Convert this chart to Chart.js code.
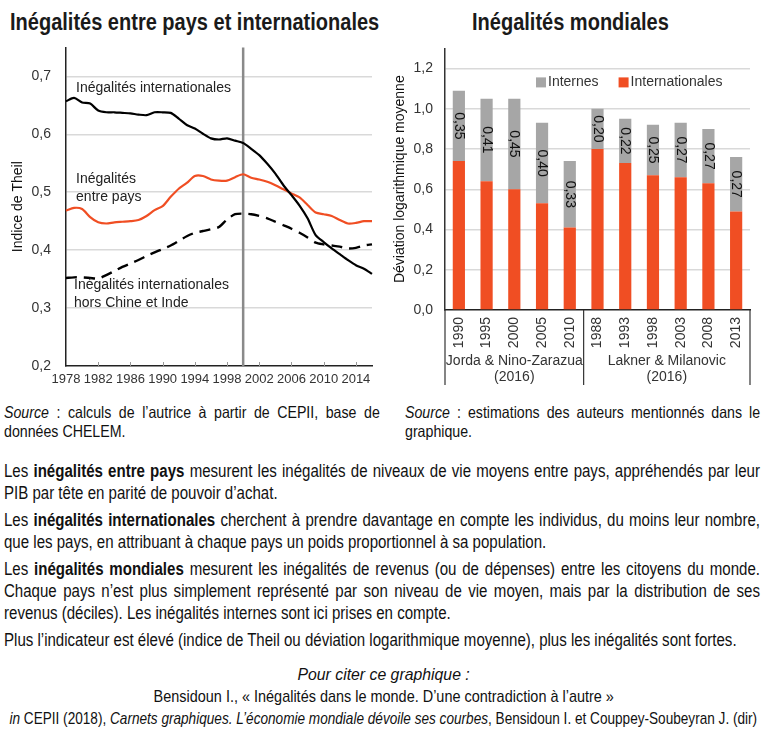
<!DOCTYPE html>
<html lang="fr">
<head>
<meta charset="utf-8">
<script src="https://cdn.jsdelivr.net/npm/chart.js@4.4.1/dist/chart.umd.min.js"></script>
<style>
  body { margin: 0; width: 767px; height: 747px; background: #fff; position: relative; overflow: hidden;
         font-family: 'Liberation Sans', Arial, sans-serif; color: #111; }
  canvas { position: absolute; }
  /* narrow look: regular Liberation Sans squeezed horizontally */
  .narrow { position: absolute; transform-origin: 0 0; }
  .title { top: 9px; font-weight: bold; font-size: 23px; line-height: 26px; color: #1a1a1a; white-space: nowrap; transform: scaleX(0.87); }
  .src { top: 403px; font-size: 16.5px; line-height: 19px; text-align: justify; transform: scaleX(0.86); }
  #notes { left: 4px; top: 460px; width: 879px; font-size: 17.5px; line-height: 22px; transform: scaleX(0.86); }
  #notes p { margin: 0 0 5px 0; text-align: justify; }
  /* wide box centred on the page middle so long lines stay centred */
  .cite { position: absolute; left: -300px; width: 1367px; height: 22px; text-align: center; font-size: 17px; line-height: 22px; white-space: nowrap; }
  .cite span { display: inline-block; transform-origin: 50% 50%; }
</style>
</head>
<body>
<div class="narrow title" style="left:10px">Inégalités entre pays et internationales</div>
<div class="narrow title" style="left:472px">Inégalités mondiales</div>

<canvas id="leftChart" width="385" height="361" style="left:0;top:39px"></canvas>
<canvas id="rightChart" width="377" height="360" style="left:390px;top:40px"></canvas>

<div class="narrow src" style="left:4px;width:437px"><i>Source</i> : calculs de l’autrice à partir de CEPII, base de données CHELEM.</div>
<div class="narrow src" style="left:405px;width:413px"><i>Source</i> : estimations des auteurs mentionnés dans le graphique.</div>

<div id="notes" class="narrow">
  <p>Les <b>inégalités entre pays</b> mesurent les inégalités de niveaux de vie moyens entre pays, appréhendés par leur PIB par tête en parité de pouvoir d’achat.</p>
  <p>Les <b>inégalités internationales</b> cherchent à prendre davantage en compte les individus, du moins leur nombre, que les pays, en attribuant à chaque pays un poids proportionnel à sa population.</p>
  <p>Les <b>inégalités mondiales</b> mesurent les inégalités de revenus (ou de dépenses) entre les citoyens du monde. Chaque pays n’est plus simplement représenté par son niveau de vie moyen, mais par la distribution de ses revenus (déciles). Les inégalités internes sont ici prises en compte.</p>
  <p>Plus l’indicateur est élevé (indice de Theil ou déviation logarithmique moyenne), plus les inégalités sont fortes.</p>
</div>

<div class="cite" style="top:664px"><span style="transform:scaleX(0.93)"><i>Pour citer ce graphique :</i></span></div>
<div class="cite" style="top:686px"><span style="transform:scaleX(0.85)">Bensidoun I., « Inégalités dans le monde. D’une contradiction à l’autre »</span></div>
<div class="cite" style="top:708px"><span style="transform:scaleX(0.80)"><i>in</i> CEPII (2018), <i>Carnets graphiques. L’économie mondiale dévoile ses courbes</i>, Bensidoun I. et Couppey-Soubeyran J. (dir)</span></div>

<script>
// left chart: Theil index, 1978-2016
const years = ['1978','1979','1980','1981','1982','1983','1984','1985','1986','1987',
  '1988','1989','1990','1991','1992','1993','1994','1995','1996','1997',
  '1998','1999','2000','2001','2002','2003','2004','2005','2006','2007',
  '2008','2009','2010','2011','2012','2013','2014','2015','2016'];

const internationales = [0.657, 0.663, 0.655, 0.653, 0.641, 0.638, 0.638, 0.637, 0.636, 0.634,
  0.633, 0.638, 0.638, 0.637, 0.627, 0.616, 0.610, 0.601, 0.593, 0.591,
  0.593, 0.589, 0.585, 0.575, 0.564, 0.549, 0.532, 0.512, 0.495, 0.477,
  0.455, 0.426, 0.414, 0.403, 0.393, 0.383, 0.374, 0.368, 0.359];

const entrePays = [0.468, 0.473, 0.471, 0.457, 0.448, 0.446, 0.448, 0.449, 0.450, 0.452,
  0.459, 0.469, 0.476, 0.492, 0.506, 0.516, 0.528, 0.528, 0.522, 0.520,
  0.520, 0.526, 0.531, 0.525, 0.522, 0.518, 0.512, 0.505, 0.498, 0.491,
  0.478, 0.465, 0.462, 0.459, 0.452, 0.446, 0.447, 0.450, 0.450];

const horsChineInde = [0.352, 0.353, 0.353, 0.352, 0.351, 0.357, 0.364, 0.371, 0.377, 0.383,
  0.390, 0.396, 0.402, 0.408, 0.416, 0.424, 0.430, 0.433, 0.436, 0.440,
  0.453, 0.462, 0.463, 0.462, 0.459, 0.455, 0.449, 0.443, 0.437, 0.430,
  0.422, 0.413, 0.410, 0.408, 0.406, 0.403, 0.404, 0.408, 0.410];

const markerYear = '2000';

// right chart: mean log deviation by study
const mondYears = ['1990','1995','2000','2005','2010','1988','1993','1998','2003','2008','2013'];
const partInternationales = [0.74, 0.64, 0.60, 0.53, 0.41, 0.80, 0.73, 0.67, 0.66, 0.63, 0.49];
const partInternes = [0.35, 0.41, 0.45, 0.40, 0.33, 0.20, 0.22, 0.25, 0.27, 0.27, 0.27];
const studies = ['Jorda & Nino-Zarazua', 'Lakner & Milanovic'];
const studyYear = ['(2016)', '(2016)'];
const studyStart = [0, 5];

const RED = '#f04e23';
const GREY = '#a6a6a6';
const comma = v => v.toFixed(1).replace('.', ',');

Chart.defaults.font.family = "'Liberation Sans', Arial, sans-serif";
Chart.defaults.font.size = 14;
Chart.defaults.color = '#333';

// line labels, small x ticks and the 2000 marker on the left chart
const leftDecor = {
    id: 'leftDecor',
    beforeDatasetsDraw(chart) {
        const { ctx, chartArea, scales: { x } } = chart;
        ctx.save();
        ctx.strokeStyle = '#999';
        ctx.lineWidth = 1;
        years.forEach((yr, i) => {
            if (i === 0 || i % 4 !== 0) return;
            const tx = Math.round(x.getPixelForTick(i)) + 0.5;
            ctx.beginPath();
            ctx.moveTo(tx, chartArea.bottom);
            ctx.lineTo(tx, chartArea.bottom - 4);
            ctx.stroke();
        });
        const px = x.getPixelForValue(years.indexOf(markerYear));
        ctx.strokeStyle = '#8a8a8a';
        ctx.lineWidth = 2.5;
        ctx.beginPath();
        ctx.moveTo(px, chartArea.top);
        ctx.lineTo(px, chartArea.bottom);
        ctx.stroke();
        ctx.restore();
    },
    afterDraw(chart) {
        const { ctx, scales: { x, y } } = chart;
        const notes = [
            ['Inégalités internationales', 1.25, 0.679],
            ['Inégalités', 1.25, 0.522],
            ['entre pays', 1.25, 0.491],
            ['Inégalités internationales', 1, 0.340],
            ['hors Chine et Inde', 1, 0.309]
        ];
        ctx.save();
        ctx.font = "14px 'Liberation Sans', Arial, sans-serif";
        ctx.fillStyle = '#222';
        ctx.textBaseline = 'middle';
        notes.forEach(([t, xi, yv]) => ctx.fillText(t, x.getPixelForValue(xi), y.getPixelForValue(yv)));
        ctx.restore();
    }
};

new Chart(document.getElementById('leftChart'), {
    type: 'line',
    data: {
        labels: years,
        datasets: [
            { label: 'Inégalités internationales', data: internationales, borderColor: '#000', borderWidth: 2.2 },
            { label: 'Inégalités entre pays', data: entrePays, borderColor: RED, borderWidth: 2.2 },
            { label: 'Inégalités internationales hors Chine et Inde', data: horsChineInde, borderColor: '#000', borderWidth: 2.4, borderDash: [11, 7] }
        ]
    },
    options: {
        responsive: false,
        animation: false,
        layout: { padding: { top: 0, right: 13 } },
        elements: { point: { radius: 0 }, line: { tension: 0.25 } },
        plugins: { legend: { display: false }, tooltip: { enabled: false } },
        scales: {
            x: {
                offset: false,
                grid: { drawOnChartArea: false, drawTicks: false },
                border: { color: '#222', width: 1.5 },
                ticks: {
                    autoSkip: false, maxRotation: 0, padding: 6, font: { size: 13 },
                    callback: (v, i) => i % 4 === 0 ? years[i] : ''
                },
                afterFit: s => { s.height = 34; }
            },
            y: {
                min: 0.2, max: 0.75,
                grid: { color: c => c.index === 0 ? 'transparent' : '#d9d9d9', lineWidth: 1.5,
                        drawTicks: true, tickLength: 15, tickColor: 'transparent' },
                border: { color: '#222', width: 1.5 },
                ticks: { stepSize: 0.1, includeBounds: false, padding: 0, callback: v => comma(v) },
                title: { display: true, text: 'Indice de Theil', color: '#111', padding: { top: 10 } },
                afterFit: s => { s.width = 66; }
            }
        }
    },
    plugins: [leftDecor]
});

// value labels, legend and study groups on the right chart
const rightDecor = {
    id: 'rightDecor',
    afterDraw(chart) {
        const { ctx, chartArea, scales: { x } } = chart;
        ctx.save();

        // rotated labels in the grey segments
        const meta = chart.getDatasetMeta(1);
        ctx.font = "14px 'Liberation Sans', Arial, sans-serif";
        ctx.fillStyle = '#111';
        ctx.textAlign = 'center';
        ctx.textBaseline = 'middle';
        meta.data.forEach((bar, i) => {
            ctx.save();
            ctx.translate(bar.x, (bar.y + bar.base) / 2);
            ctx.rotate(Math.PI / 2);
            ctx.fillText(partInternes[i].toFixed(2).replace('.', ','), 0, 0);
            ctx.restore();
        });

        // legend inside the plot
        let lx = chartArea.left + 91;
        const ly = chartArea.top + 34;
        ctx.textAlign = 'left';
        [1, 0].forEach(di => {
            const ds = chart.data.datasets[di];
            ctx.fillStyle = ds.backgroundColor;
            ctx.fillRect(lx, ly - 5, 10, 10);
            ctx.fillStyle = '#333';
            ctx.fillText(ds.label, lx + 12, ly);
            lx += 12 + ctx.measureText(ds.label).width + 20;
        });

        // study separators and names
        const bottom = chartArea.bottom;
        const edges = [chartArea.left];
        for (let g = 1; g < studyStart.length; g++) {
            edges.push((x.getPixelForTick(studyStart[g] - 1) + x.getPixelForTick(studyStart[g])) / 2);
        }
        edges.push(chartArea.right);
        ctx.strokeStyle = '#333';
        ctx.lineWidth = 1.2;
        edges.forEach(ex => {
            ctx.beginPath();
            ctx.moveTo(ex, bottom);
            ctx.lineTo(ex, bottom + 75);
            ctx.stroke();
        });
        ctx.fillStyle = '#333';
        ctx.textAlign = 'center';
        studies.forEach((s, g) => {
            const cx = (edges[g] + edges[g + 1]) / 2;
            ctx.fillText(s, cx, bottom + 51);
            ctx.fillText(studyYear[g], cx, bottom + 67);
        });
        ctx.restore();
    }
};

new Chart(document.getElementById('rightChart'), {
    type: 'bar',
    data: {
        labels: mondYears,
        datasets: [
            { label: 'Internationales', data: partInternationales, backgroundColor: RED },
            { label: 'Internes', data: partInternes, backgroundColor: GREY }
        ]
    },
    options: {
        responsive: false,
        animation: false,
        layout: { padding: { top: 0, right: 17 } },
        datasets: { bar: { barPercentage: 1, categoryPercentage: 0.44 } },
        plugins: { legend: { display: false }, tooltip: { enabled: false } },
        scales: {
            x: {
                stacked: true,
                grid: { drawOnChartArea: false, drawTicks: false },
                border: { color: '#222', width: 1.5 },
                ticks: { autoSkip: false, minRotation: 90, maxRotation: 90, padding: 7 },
                afterFit: s => { s.height = 90; }
            },
            y: {
                stacked: true,
                min: 0, max: 1.3,
                grid: { color: c => c.index === 0 ? 'transparent' : '#d9d9d9', lineWidth: 1.5,
                        drawTicks: true, tickLength: 12, tickColor: 'transparent' },
                border: { color: '#333', width: 1.5 },
                ticks: { stepSize: 0.2, includeBounds: false, padding: 0, callback: v => comma(v) },
                title: { display: true, text: 'Déviation logarithmique moyenne', color: '#111', padding: { top: 2 } },
                afterFit: s => { s.width = 55; }
            }
        }
    },
    plugins: [rightDecor]
});
</script>
</body>
</html>
